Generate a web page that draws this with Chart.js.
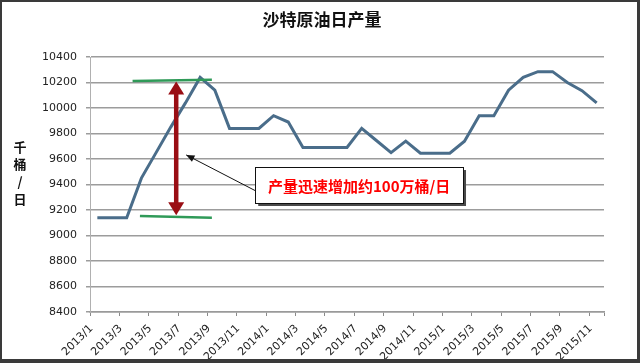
<!DOCTYPE html>
<html>
<head>
<meta charset="utf-8">
<script src="https://cdn.jsdelivr.net/npm/chart.js@4.4.0/dist/chart.umd.min.js"></script>
<style>
    html, body { margin: 0; padding: 0; background: #fff; }
    #wrap { position: relative; width: 640px; height: 363px; }
    #frame {
        position: absolute; left: 0; top: 0; width: 640px; height: 363px;
        box-sizing: border-box; border-style: solid; border-color: #3a3a3a;
        border-width: 2px 3px 4px 2px; pointer-events: none;
    }
</style>
</head>
<body>
<div id="wrap">
    <canvas id="oilChart" width="640" height="363"></canvas>
    <div id="frame"></div>
</div>
<script>
// Saudi crude output, thousand barrels per day
const months = [
    '2013/1', '2013/2', '2013/3', '2013/4', '2013/5', '2013/6', '2013/7', '2013/8', '2013/9', '2013/10', '2013/11', '2013/12',
    '2014/1', '2014/2', '2014/3', '2014/4', '2014/5', '2014/6', '2014/7', '2014/8', '2014/9', '2014/10', '2014/11', '2014/12',
    '2015/1', '2015/2', '2015/3', '2015/4', '2015/5', '2015/6', '2015/7', '2015/8', '2015/9', '2015/10', '2015/11'
];
const output = [
    9140, 9140, 9140, 9450, 9650, 9850, 10040, 10240, 10140, 9840, 9840, 9840,
    9940, 9890, 9690, 9690, 9690, 9690, 9840, 9745, 9650, 9740, 9645, 9645,
    9645, 9740, 9940, 9940, 10140, 10240, 10285, 10285, 10200, 10136, 10040
];
const yMin = 8400, yMax = 10400, yStep = 200;

const chartTitle = '沙特原油日产量';
const yTitle = ['千', '桶', '/', '日'];

// annotation points as [category index, value]
const rangeTop = [[2.4, 10212], [7.8, 10222]];
const rangeBottom = [[2.9, 9152], [7.8, 9140]];
const jumpArrow = [[5.37, 10208], [5.37, 9158]];
const noteArrow = [[10.95, 9340], [6.05, 9632]];
const noteBox = [[10.75, 9537], [24.9, 9255]];
const noteText = '产量迅速增加约100万桶/日';

const annotations = {
    id: 'annotations',
    afterDatasetsDraw(chart) {
        const { ctx, scales: { x, y } } = chart;
        const px = p => [x.getPixelForValue(p[0]), y.getPixelForValue(p[1])];
        ctx.save();

        // green range lines
        ctx.strokeStyle = '#2f9a58';
        ctx.lineWidth = 2.5;
        [rangeTop, rangeBottom].forEach(seg => {
            const a = px(seg[0]), b = px(seg[1]);
            ctx.beginPath();
            ctx.moveTo(a[0], a[1]);
            ctx.lineTo(b[0], b[1]);
            ctx.stroke();
        });

        // dark red double arrow
        const top = px(jumpArrow[0]), bot = px(jumpArrow[1]);
        const headH = 13, headW = 8;
        ctx.strokeStyle = '#9a0e14';
        ctx.fillStyle = '#9a0e14';
        ctx.lineWidth = 4.5;
        ctx.beginPath();
        ctx.moveTo(top[0], top[1] + headH - 1);
        ctx.lineTo(bot[0], bot[1] - headH + 1);
        ctx.stroke();
        ctx.beginPath();
        ctx.moveTo(top[0], top[1]);
        ctx.lineTo(top[0] - headW, top[1] + headH);
        ctx.lineTo(top[0] + headW, top[1] + headH);
        ctx.closePath();
        ctx.fill();
        ctx.beginPath();
        ctx.moveTo(bot[0], bot[1]);
        ctx.lineTo(bot[0] - headW, bot[1] - headH);
        ctx.lineTo(bot[0] + headW, bot[1] - headH);
        ctx.closePath();
        ctx.fill();

        // black pointer arrow
        const tail = px(noteArrow[0]), tip = px(noteArrow[1]);
        const ang = Math.atan2(tip[1] - tail[1], tip[0] - tail[0]);
        ctx.strokeStyle = '#111';
        ctx.fillStyle = '#111';
        ctx.lineWidth = 1;
        ctx.beginPath();
        ctx.moveTo(tail[0], tail[1]);
        ctx.lineTo(tip[0], tip[1]);
        ctx.stroke();
        ctx.beginPath();
        ctx.moveTo(tip[0], tip[1]);
        ctx.lineTo(tip[0] - 9 * Math.cos(ang - 0.4), tip[1] - 9 * Math.sin(ang - 0.4));
        ctx.lineTo(tip[0] - 9 * Math.cos(ang + 0.4), tip[1] - 9 * Math.sin(ang + 0.4));
        ctx.closePath();
        ctx.fill();

        // note box with shadow
        const b0 = px(noteBox[0]), b1 = px(noteBox[1]);
        const bw = b1[0] - b0[0], bh = b1[1] - b0[1];
        ctx.fillStyle = '#4a4a4a';
        ctx.fillRect(b0[0] + 3, b0[1] + 3, bw, bh);
        ctx.fillStyle = '#fff';
        ctx.fillRect(b0[0], b0[1], bw, bh);
        ctx.strokeStyle = '#111';
        ctx.lineWidth = 1;
        ctx.strokeRect(Math.round(b0[0]) + 0.5, Math.round(b0[1]) + 0.5, Math.round(bw), Math.round(bh));
        ctx.fillStyle = '#ff0000';
        ctx.font = 'bold 15px "Noto Sans CJK SC"';
        ctx.textAlign = 'center';
        ctx.textBaseline = 'middle';
        ctx.fillText(noteText, b0[0] + bw / 2, b0[1] + bh / 2 + 1);

        ctx.restore();
    },
    afterDraw(chart) {
        const { ctx } = chart;
        ctx.save();
        ctx.fillStyle = '#111';
        ctx.textAlign = 'center';
        ctx.textBaseline = 'middle';
        ctx.font = 'bold 17px "Noto Sans CJK SC"';
        ctx.fillText(chartTitle, 322, 20);
        ctx.font = 'bold 13px "Noto Sans CJK SC"';
        yTitle.forEach((ch, i) => ctx.fillText(ch, 20, 147 + i * 17.5));
        ctx.restore();
    }
};

const ctx = document.getElementById('oilChart').getContext('2d');
new Chart(ctx, {
    type: 'line',
    data: {
        labels: months,
        datasets: [{
            data: output,
            borderColor: '#4a6d8a',
            borderWidth: 3,
            pointRadius: 0,
            tension: 0,
            fill: false
        }]
    },
    options: {
        responsive: false,
        animation: false,
        layout: { padding: { top: 57, left: 10, right: 36, bottom: 0 } },
        plugins: {
            legend: { display: false },
            tooltip: { enabled: false }
        },
        scales: {
            x: {
                offset: true,
                grid: {
                    offset: true,
                    drawOnChartArea: false,
                    tickLength: 4,
                    tickColor: c => (c.index === undefined || c.index % 2 === 0) ? '#8a8a8a' : 'rgba(0,0,0,0)'
                },
                border: { display: true, color: '#9a9a9a', width: 1.5 },
                ticks: {
                    autoSkip: false,
                    minRotation: 45,
                    maxRotation: 45,
                    padding: 6,
                    labelOffset: -6,
                    color: '#222',
                    font: { family: 'DejaVu Sans', size: 11 },
                    callback: (v, i) => i % 2 === 0 ? months[i] : ''
                },
                afterFit: s => { s.height = 51; }
            },
            y: {
                min: yMin,
                max: yMax,
                grid: { color: '#9c9c9c', lineWidth: 1.5, tickLength: 4, tickColor: '#9c9c9c' },
                border: { display: true, color: '#b0b0b0', width: 1 },
                ticks: {
                    stepSize: yStep,
                    padding: 9,
                    color: '#222',
                    font: { family: 'DejaVu Sans', size: 11 },
                    callback: v => String(v)
                },
                afterFit: s => { s.width = 80; }
            }
        }
    },
    plugins: [annotations]
});
</script>
</body>
</html>
